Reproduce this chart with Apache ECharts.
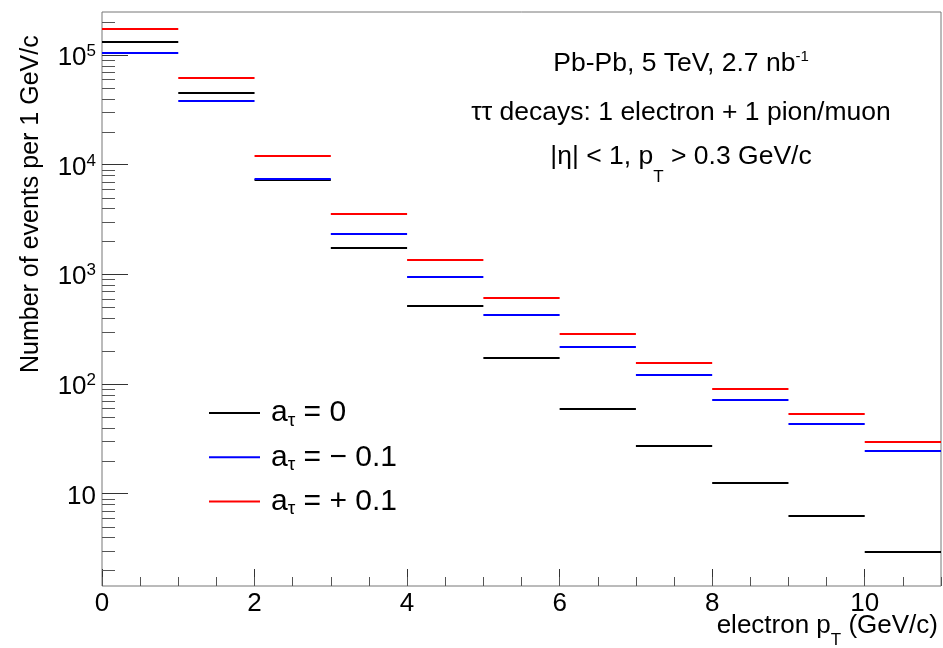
<!DOCTYPE html>
<html><head><meta charset="utf-8">
<script src="https://cdn.jsdelivr.net/npm/echarts@6/dist/echarts.min.js"></script>
<style>html,body{margin:0;padding:0;background:#fff}#c{width:943px;height:648px}</style>
</head><body><div id="c"></div>
<script>
// ---- data ----
const binLow  = [0, 1, 2, 3, 4, 5, 6, 7, 8, 9, 10];
const binHigh = [1, 2, 3, 4, 5, 6, 7, 8, 9, 10, 11];
const valuesA0 = [1.31e5, 4.47e4, 7.2e3, 1.72e3, 515, 173, 58.8, 27.2, 12.4, 6.25, 2.96];   // a_tau = 0
const valuesAm = [1.03e5, 3.82e4, 7.35e3, 2.32e3, 946, 429, 218, 120, 70.6, 43.5, 24.3];   // a_tau = -0.1
const valuesAp = [1.73e5, 6.15e4, 1.20e4, 3.56e3, 1.36e3, 609, 286, 156, 90, 53.7, 29.8];  // a_tau = +0.1
const seriesNames = ['a0', 'am', 'ap'];
const legendLabels = ['{f|a}{s|τ}{a| = 0}', '{f|a}{s|τ}{a| = − 0.1}', '{f|a}{s|τ}{a| = + 0.1}'];
const xTickLabels = ['0', '2', '4', '6', '8', '10'];
const yDecades = [1, 10, 100, 1000, 10000, 100000];
const yMinorMultipliers = [2, 3, 4, 5, 6, 7, 8, 9];
const yMin = 1.436, yMax = 2.46e5;
const xMin = 0, xMax = 11;

const FF = '"Liberation Sans", Arial, Helvetica, sans-serif';
const yMinorTicks = [];
yDecades.forEach(d => yMinorMultipliers.forEach(m => { const v = d * m; if (v > yMin && v < yMax) yMinorTicks.push(v); }));

function binSeries(name, vals, color) {
  return {
    type: 'custom', name: name, xAxisIndex: 0, yAxisIndex: 0,
    itemStyle: { color: color },
    data: vals.map((v, i) => [binLow[i], binHigh[i], v]),
    encode: { x: [0, 1], y: 2 },
    renderItem: function (params, api) {
      const v = api.value(2);
      const p0 = api.coord([api.value(0), v]);
      const p1 = api.coord([api.value(1), v]);
      const y = Math.round(p0[1]);
      return { type: 'line', shape: { x1: p0[0], y1: y, x2: p1[0], y2: y },
               style: { stroke: color, lineWidth: 2 } };
    }
  };
}

const chart = echarts.init(document.getElementById('c'), null, { renderer: 'canvas' });
chart.setOption({
  animation: false,
  backgroundColor: '#fff',
  grid: { left: 102, right: 2, top: 12, bottom: 62, show: true, borderColor: '#777', borderWidth: 1,
          backgroundColor: 'transparent', outerBoundsMode: 'none', containLabel: false },
  xAxis: [
    { type: 'value', min: xMin, max: xMax, interval: 2, position: 'bottom',
      axisLine: { show: false }, splitLine: { show: false },
      axisTick: { inside: true, length: 17, lineStyle: { color: '#333', width: 1 } },
      axisLabel: { margin: 5, fontSize: 26, color: '#000', fontFamily: FF, showMaxLabel: false,
                   formatter: v => xTickLabels.indexOf(String(v)) >= 0 ? String(v) : '' } },
    { type: 'value', min: xMin, max: xMax, interval: 0.5, position: 'bottom',
      axisLine: { show: false }, splitLine: { show: false }, axisLabel: { show: false },
      axisTick: { inside: true, length: 9, lineStyle: { color: '#555', width: 1 } } }
  ],
  yAxis: {
    type: 'log', logBase: 10, min: yMin, max: yMax,
    axisLine: { show: false }, splitLine: { show: false }, minorTick: { show: false },
    axisTick: { inside: true, length: 26, lineStyle: { color: '#333', width: 1 } },
    axisLabel: {
      margin: 6, showMinLabel: false, showMaxLabel: false, padding: [6, 0, 0, 0],
      formatter: function (v) {
        const e = Math.log10(v), r = Math.round(e);
        if (Math.abs(e - r) > 1e-6 || r < 1) return '';
        return r === 1 ? '{b|10}' : '{b|10}{e|' + r + '}';
      },
      rich: {
        b: { fontSize: 26, lineHeight: 30, fontFamily: FF, color: '#000' },
        e: { fontSize: 17, lineHeight: 17, verticalAlign: 'top', fontFamily: FF, color: '#000' }
      }
    }
  },
  legend: {
    data: seriesNames, orient: 'vertical', left: 209, top: 398, padding: 0, itemGap: 12,
    itemWidth: 51, itemHeight: 2, icon: 'rect', selectedMode: false,
    formatter: name => legendLabels[seriesNames.indexOf(name)],
    textStyle: {
      rich: {
        f: { fontSize: 30, lineHeight: 34.5, fontFamily: FF, color: '#000', padding: [0, 0, 0, 6] },
        a: { fontSize: 30, lineHeight: 34.5, fontFamily: FF, color: '#000' },
        s: { fontSize: 19, lineHeight: 19, verticalAlign: 'bottom', fontFamily: FF, color: '#000' }
      }
    }
  },
  graphic: [
    { type: 'text', x: 31, y: 373, rotation: Math.PI / 2, silent: true,
      style: { text: 'Number of events per 1 GeV/c', fontSize: 25, fontFamily: FF, fill: '#000',
               align: 'left', verticalAlign: 'middle' } },
    { type: 'text', x: 938, y: 626, silent: true,
      style: { text: '{n|electron p}{s|T}{n| (GeV/c)}', align: 'right', verticalAlign: 'middle',
               rich: { n: { fontSize: 26, lineHeight: 45, fontFamily: FF, fill: '#000' },
                       s: { fontSize: 17, lineHeight: 17, verticalAlign: 'bottom', fontFamily: FF, fill: '#000' } } } },
    { type: 'text', x: 681, y: 64, silent: true,
      style: { text: '{n|Pb-Pb, 5 TeV, 2.7 nb}{p|-1}', align: 'center', verticalAlign: 'middle',
               rich: { n: { fontSize: 26.5, lineHeight: 30, fontFamily: FF, fill: '#000' },
                       p: { fontSize: 15, lineHeight: 15, verticalAlign: 'top', fontFamily: FF, fill: '#000' } } } },
    { type: 'text', x: 681, y: 113, silent: true,
      style: { text: 'ττ decays: 1 electron + 1 pion/muon', align: 'center', verticalAlign: 'middle',
               fontSize: 26.5, fontFamily: FF, fill: '#000' } },
    { type: 'text', x: 681, y: 157, silent: true,
      style: { text: '{n||η| < 1, p}{s|T}{n| > 0.3 GeV/c}', align: 'center', verticalAlign: 'middle',
               rich: { n: { fontSize: 26.5, lineHeight: 57, fontFamily: FF, fill: '#000' },
                       s: { fontSize: 17, lineHeight: 17, verticalAlign: 'bottom', fontFamily: FF, fill: '#000' } } } }
  ],
  series: [
    {
      type: 'custom', name: 'minorTicks', silent: true, xAxisIndex: 0, yAxisIndex: 0,
      data: yMinorTicks.map(v => [xMin, v]), encode: { x: 0, y: 1 },
      renderItem: function (params, api) {
        const p = api.coord([api.value(0), api.value(1)]);
        const y = Math.round(p[1]) + 0.5;
        return { type: 'line', shape: { x1: p[0], y1: y, x2: p[0] + 13, y2: y },
                 style: { stroke: '#555', lineWidth: 1 } };
      }
    },
    binSeries('a0', valuesA0, '#000000'),
    binSeries('am', valuesAm, '#0000ff'),
    binSeries('ap', valuesAp, '#ff0000')
  ]
});
</script>
</body></html>
